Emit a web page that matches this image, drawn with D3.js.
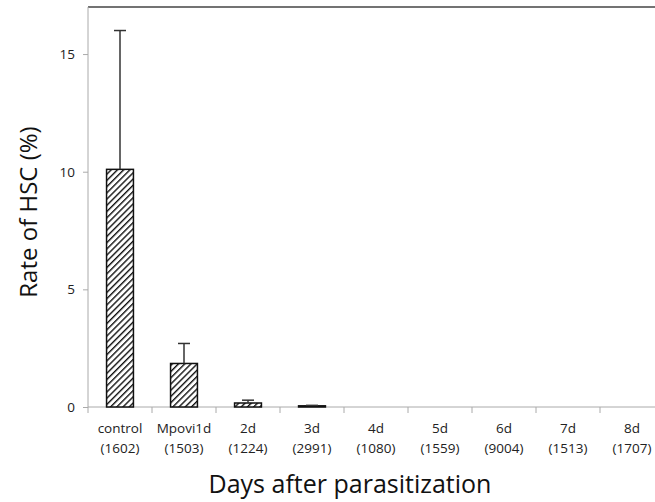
<!DOCTYPE html>
<html><head><meta charset="utf-8">
<script src="https://cdn.jsdelivr.net/npm/d3@7"></script>
<style>body{margin:0;background:#fff}</style>
</head><body>
<svg id="c" width="655" height="502"></svg>
<script>
const categories = ["control","Mpovi1d","2d","3d","4d","5d","6d","7d","8d"];
const counts = ["(1602)","(1503)","(1224)","(2991)","(1080)","(1559)","(9004)","(1513)","(1707)"];
const values = [10.1, 1.85, 0.17, 0.05, 0, 0, 0, 0, 0];
const errors = [5.9, 0.85, 0.12, 0.02, 0, 0, 0, 0, 0];
const yTicks = [0, 5, 10, 15];

const svg = d3.select("#c");
const mLeft = 88, mRight = 664, mTop = 7, mBottom = 407;
const font = "'Open Sans', 'Liberation Sans', sans-serif";

const x = d3.scaleBand().domain(categories).range([mLeft, mRight]).padding(0);
const y = d3.scaleLinear().domain([0, 17]).range([mBottom, mTop]);

const defs = svg.append("defs");
const pat = defs.append("pattern").attr("id","hatch").attr("patternUnits","userSpaceOnUse")
  .attr("width",4.4).attr("height",4.4).attr("patternTransform","rotate(45)");
pat.append("rect").attr("width",4.4).attr("height",4.4).attr("fill","#fff");
pat.append("line").attr("x1",0).attr("y1",0).attr("x2",0).attr("y2",4.4)
  .attr("stroke","#111").attr("stroke-width",2.8);

// top border
svg.append("line").attr("x1",mLeft).attr("x2",655).attr("y1",mTop).attr("y2",mTop)
  .attr("stroke","#444").attr("stroke-width",1.6);

// y axis
const ya = svg.append("g").attr("transform",`translate(${mLeft},0)`)
  .call(d3.axisLeft(y).tickValues(yTicks).tickSize(5).tickPadding(8));
ya.select(".domain").attr("stroke","#aaa").attr("d",`M0,${mBottom}V${mTop}`);
ya.selectAll(".tick line").attr("stroke","#aaa");
ya.selectAll("text").attr("font-family",font).attr("font-size",13.5).attr("fill","#222");

// x axis line
svg.append("line").attr("x1",mLeft).attr("x2",655).attr("y1",mBottom).attr("y2",mBottom)
  .attr("stroke","#aaa").attr("stroke-width",1);
// tick marks at band boundaries
const bounds = categories.slice(1).map(c => x(c));
svg.selectAll(".bt").data(bounds).join("line").attr("class","bt")
  .attr("x1",d=>d).attr("x2",d=>d).attr("y1",mBottom).attr("y2",mBottom+6)
  .attr("stroke","#aaa");
svg.append("line").attr("x1",mLeft).attr("x2",mLeft).attr("y1",mBottom).attr("y2",mBottom+6).attr("stroke","#aaa");

// category labels
const lab = svg.selectAll(".cl").data(categories).join("text").attr("class","cl")
  .attr("x",d=>x(d)+x.bandwidth()/2).attr("text-anchor","middle")
  .attr("font-family",font).attr("font-size",13.5).attr("fill","#222");
lab.append("tspan").attr("x",d=>x(d)+x.bandwidth()/2).attr("y",433).text(d=>d);
lab.append("tspan").attr("x",d=>x(d)+x.bandwidth()/2).attr("y",453).text((d,i)=>counts[i]);

// bars
const bw = x.bandwidth()*0.42;
const data = categories.map((c,i)=>({c, v:values[i], e:errors[i]}));
const bars = data.filter(d=>d.v>0);
svg.selectAll(".bar").data(bars).join("rect").attr("class","bar")
  .attr("x",d=>x(d.c)+x.bandwidth()/2-bw/2).attr("width",bw)
  .attr("y",d=>y(d.v)).attr("height",d=>y(0)-y(d.v))
  .attr("fill","url(#hatch)").attr("stroke","#111").attr("stroke-width",1.5);

// error bars
const eb = svg.selectAll(".eb").data(bars).join("g").attr("class","eb");
eb.append("line").attr("x1",d=>x(d.c)+x.bandwidth()/2).attr("x2",d=>x(d.c)+x.bandwidth()/2)
  .attr("y1",d=>y(d.v)).attr("y2",d=>y(d.v+d.e)).attr("stroke","#333").attr("stroke-width",1.5);
eb.append("line").attr("x1",d=>x(d.c)+x.bandwidth()/2-6).attr("x2",d=>x(d.c)+x.bandwidth()/2+6)
  .attr("y1",d=>y(d.v+d.e)).attr("y2",d=>y(d.v+d.e)).attr("stroke","#333").attr("stroke-width",1.5);

// titles
svg.append("text").attr("x",350).attr("y",493).attr("text-anchor","middle")
  .attr("font-family",font).attr("font-size",25).attr("fill","#111")
  .text("Days after parasitization");
svg.append("text").attr("transform","translate(37,212) rotate(-90)").attr("text-anchor","middle")
  .attr("font-family",font).attr("font-size",24).attr("fill","#111")
  .text("Rate of HSC (%)");
</script>
</body></html>
